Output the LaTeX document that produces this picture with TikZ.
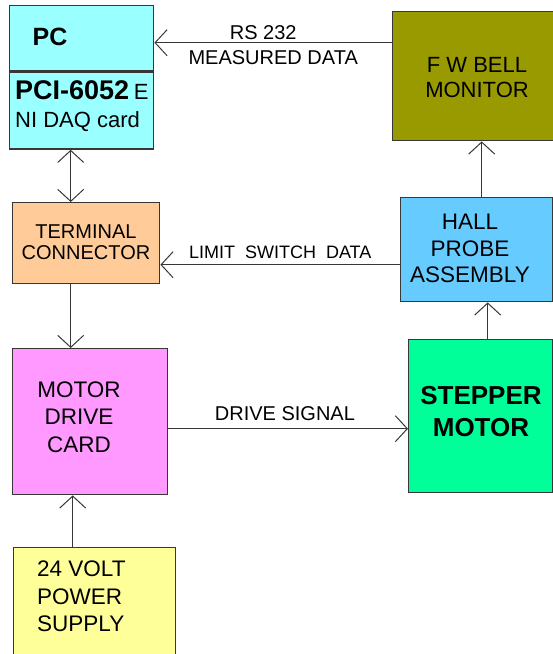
\documentclass[tikz,border=0pt]{standalone}
\usepackage{fontspec}
\setmainfont{Liberation Sans}
\usetikzlibrary{arrows.meta,positioning,calc}
\definecolor{qline}{RGB}{55,55,55}
\definecolor{qcyan}{RGB}{153,255,255}
\definecolor{qolive}{RGB}{153,153,0}
\definecolor{qpeach}{RGB}{255,204,153}
\definecolor{qsky}{RGB}{102,204,255}
\definecolor{qpink}{RGB}{255,153,255}
\definecolor{qmint}{RGB}{0,255,153}
\definecolor{qlemon}{RGB}{255,255,153}
\newcommand\fsz[2]{\fontsize{#1}{#2}\selectfont}

\begin{document}
\begin{tikzpicture}[x=1pt,y=-1pt,
  box/.style={draw=qline,line width=1.4pt,inner sep=0pt,anchor=north west},
  txt/.style={inner sep=0pt,align=center,font=\fsz{22.5}{27.5}},
  lbl/.style={inner sep=0pt,font=\fsz{20}{24}},
  >={Straight Barb[length=12pt,width=26pt]},
  link/.style={draw=qline,line width=1pt}]
\useasboundingbox (0,0) rectangle (553,654);
% blocks
\node[box,fill=qcyan,minimum width=144pt,minimum height=65pt] (pc) at (9,5) {};
\node[box,fill=qcyan,minimum width=144pt,minimum height=77pt,below=0pt of pc] (daq) {};
\node[box,fill=qolive,minimum width=170pt,minimum height=129pt] (fwb) at (392,11) {};
\node[box,fill=qpeach,minimum width=147pt,minimum height=81pt] (term) at (12,202) {};
\node[box,fill=qsky,minimum width=152pt,minimum height=104pt] (hall) at (400,197) {};
\node[box,fill=qpink,minimum width=154.5pt,minimum height=146pt] (mdc) at (12,348) {};
\node[box,fill=qmint,minimum width=144pt,minimum height=153pt] (step) at (408,339) {};
\node[box,fill=qlemon,minimum width=162pt,minimum height=120pt] (psu) at (13,547) {};
% block texts
\node[txt,font=\fsz{25}{28}\bfseries] (pc-t) at (50,37) {PC};
\node[txt,anchor=west,font=\fsz{27}{30}] (daq-a) at (15,90) {\textbf{PCI-6052}\,{\fsz{22}{26}E}};
\node[txt,anchor=west,font=\fsz{22}{26}] (daq-b) at (15,122) {NI DAQ card};
\node[txt,font=\fsz{22}{25}] (fwb-t) at (477,77.5) {F W BELL\\MONITOR};
\node[txt,font=\fsz{20}{21}] (term-t) at (86,242.5) {TERMINAL\\CONNECTOR};
\node[txt,font=\fsz{22.5}{26.5}] (hall-t) at (470,248.5) {HALL\\PROBE\\ASSEMBLY};
\node[txt] (mdc-t) at (79,417) {MOTOR\\DRIVE\\CARD};
\node[txt,font=\fsz{26}{32}\bfseries] (step-t) at (481,412) {STEPPER\\MOTOR};
\node[txt,align=left,anchor=west] (psu-t) at (37,596.5) {24 VOLT\\POWER\\SUPPLY};
% connectors
\coordinate (rs) at ([yshift=-4.5pt]pc.east);
\draw[link,->] (rs -| fwb.west) -- node[lbl,above=2.8pt,xshift=-10pt] {RS 232}
  node[lbl,below=7.8pt] {MEASURED DATA} (rs);
\coordinate (pcx) at ([xshift=-11pt]daq.south);
\draw[link,<->] (pcx) -- (pcx |- term.north);
\coordinate (ls) at ([yshift=-15pt]hall.west);
\draw[link,->] (ls) -- node[lbl,above=5.6pt,font=\fsz{18}{22}] {LIMIT\ \ SWITCH\ \ DATA} (ls -| term.east);
\coordinate (tmx) at ([xshift=-15.5pt]term.south);
\draw[link,->] (tmx) -- (tmx |- mdc.north);
\coordinate (ds) at ([yshift=-7pt]mdc.east);
\draw[link,->] (ds) -- node[lbl,above=7.8pt,xshift=-3pt] {DRIVE SIGNAL} (ds -| step.west);
\coordinate (psx) at ([xshift=-22pt]psu.north);
\draw[link,->] (psx) -- (psx |- mdc.south);
\coordinate (shx) at ([xshift=7pt]step.north);
\draw[link,->] (shx) -- (shx |- hall.south);
\coordinate (hfx) at ([xshift=5pt]hall.north);
\draw[link,->] (hfx) -- (hfx |- fwb.south);
\end{tikzpicture}
\end{document}
